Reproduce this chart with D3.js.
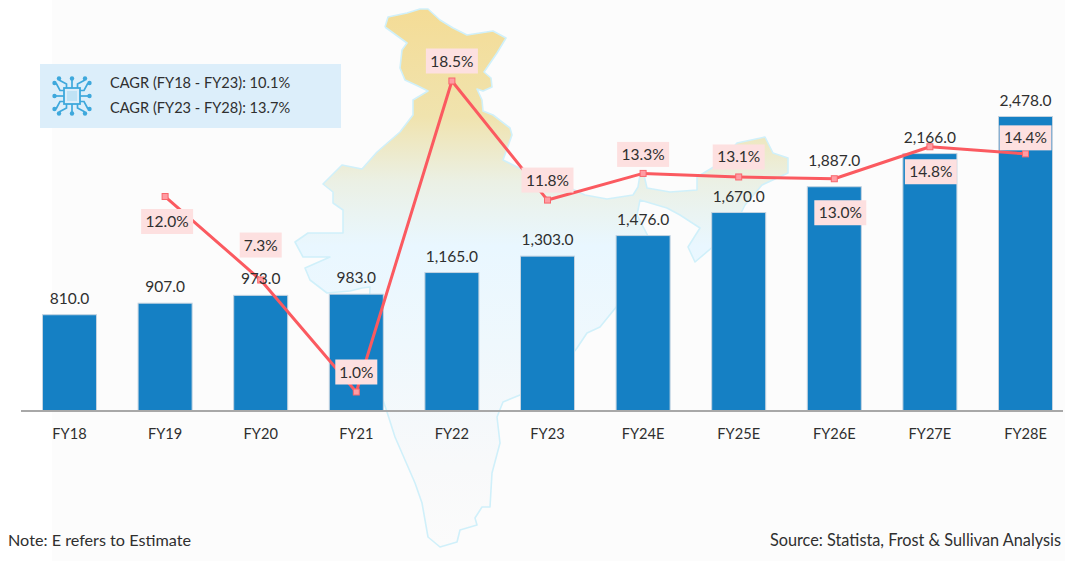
<!DOCTYPE html>
<html><head><meta charset="utf-8">
<script src="https://cdn.jsdelivr.net/npm/d3@7"></script>
<style>html,body{margin:0;padding:0;background:#fff}svg{display:block}text{font-family:Lato,"Open Sans",sans-serif;fill:#2f2f2f}</style>
</head><body><div id="chart"></div>
<script>
const categories=["FY18","FY19","FY20","FY21","FY22","FY23","FY24E","FY25E","FY26E","FY27E","FY28E"];
const revenue=[810,907,973,983,1165,1303,1476,1670,1887,2166,2478];
const growth=[null,12.0,7.3,1.0,18.5,11.8,13.3,13.1,13.0,14.8,14.4];
// label offsets as placed in the reference
const valueDy=[0,0,0,0,0,0,0,0,-10,0,0];
const labelDx=[0,2,0,0,0,0,0,0,6,1,0];
const labelDy=[0,25,-35,-20,-20,-20,-19,-20,34,25,-16];
const legendLines=["CAGR (FY18 - FY23): 10.1%","CAGR (FY23 - FY28): 13.7%"];
const note="Note: E refers to Estimate";
const source="Source: Statista, Frost & Sullivan Analysis";
// decorative backdrop: outline of the map of India
const mapOutline=[[385,27],[388,17],[407,13],[420,9],[428,9],[440,20],[453,28],[467,35],[493,31],[506,38],[497,53],[484,72],[491,78],[492,87],[483,91],[477,89],[482,100],[483,111],[493,115],[510,128],[512,135],[503,160],[523,170],[548,180],[570,188],[585,195],[607,199],[633,195],[638,187],[640,175],[644,175],[647,188],[670,192],[697,190],[697,177],[717,165],[737,143],[765,137],[773,153],[788,158],[788,173],[762,185],[745,205],[735,225],[715,245],[695,262],[688,247],[700,228],[680,215],[667,208],[640,200],[637,215],[650,240],[648,270],[630,290],[600,327],[587,333],[577,348],[560,370],[520,395],[503,402],[497,417],[500,443],[492,473],[490,507],[482,507],[475,518],[477,525],[460,530],[457,542],[440,547],[428,537],[422,503],[415,483],[395,437],[387,412],[378,385],[368,340],[370,287],[362,288],[350,291],[327,293],[310,280],[305,268],[330,257],[303,257],[295,242],[308,233],[343,233],[343,210],[333,203],[333,192],[323,184],[342,165],[362,169],[377,152],[400,132],[413,115],[413,100],[428,91],[418,86],[405,80],[400,68],[402,50],[407,43],[385,27]];

const W=1065,H=561;
const svg=d3.select("#chart").append("svg").attr("width",W).attr("height",H);
const defs=svg.append("defs");
const grad=defs.append("linearGradient").attr("id","mapFill").attr("gradientUnits","userSpaceOnUse").attr("x1",0).attr("x2",0).attr("y1",9).attr("y2",547);
[[0,"#f4dc96"],[0.2,"#f0e3ae"],[0.32,"#ebf0e4"],[0.44,"#e9f7ff"],[0.62,"#eff8fd"],[0.85,"#f8f9fa"],[1,"#fbfbfb"]].forEach(d=>grad.append("stop").attr("offset",d[0]).attr("stop-color",d[1]));

svg.append("rect").attr("x",52).attr("y",0).attr("width",W-52).attr("height",H).attr("fill","#fcfcfc");
svg.append("path").attr("d",d3.line()(mapOutline)).attr("fill","url(#mapFill)").attr("stroke","#d0f0fa").attr("stroke-width",1.6).attr("stroke-linejoin","round");

const x=d3.scaleBand().domain(categories).range([21.7,1073.3]).paddingInner(0.435).paddingOuter(0.2175);
const y=d3.scaleLinear().domain([0,2478]).range([411,116.5]);
const y2=d3.scaleLinear().domain([1,18.5]).range([392,81]);
const cx=c=>x(c)+x.bandwidth()/2;

// legend box
svg.append("rect").attr("x",40).attr("y",64).attr("width",301).attr("height",64).attr("fill","#dceefa");
svg.selectAll(".leg").data(legendLines).join("text").attr("class","leg").attr("x",110).attr("y",(d,i)=>88+i*25).attr("font-size",14.6).text(d=>d);
// chip icon
const ic=svg.append("g").attr("transform","translate(72,96)").attr("fill","none").attr("stroke","#3ea8dc").attr("stroke-width",1.7);
ic.append("rect").attr("x",-8).attr("y",-8).attr("width",16).attr("height",16).attr("stroke-width",1.8);
ic.append("rect").attr("x",-5).attr("y",-5).attr("width",10).attr("height",10).attr("fill","#bfe2f5").attr("stroke","none");
[0,90,180,270].forEach(a=>{
  const g=ic.append("g").attr("transform",`rotate(${a})`);
  [[-5.5,-8,-5.5,-12,-13,-16],[0,-8,0,-16,0,-16],[5.5,-8,5.5,-12,13,-16]].forEach(p=>{
    g.append("path").attr("d",`M${p[0]},${p[1]}L${p[2]},${p[3]}L${p[4]},${p[5]}`);
    g.append("circle").attr("cx",p[4]).attr("cy",p[5]-1.5).attr("r",2.2).attr("fill","#3ea8dc").attr("stroke","none");
  });
});

// bars
svg.selectAll(".bar").data(categories).join("rect").attr("class","bar")
 .attr("x",d=>x(d)).attr("width",x.bandwidth())
 .attr("y",(d,i)=>y(revenue[i])).attr("height",(d,i)=>y(0)-y(revenue[i]))
 .attr("fill","#1580c4").attr("stroke","#c4d3e0").attr("stroke-width",1);

// x axis
const axis=svg.append("g").attr("transform","translate(0,411)").call(d3.axisBottom(x).tickSize(0).tickPadding(15));
axis.select(".domain").remove();
axis.selectAll("text").attr("font-size",14.6).attr("font-family",null).attr("dy","0.9em");
svg.append("line").attr("x1",21).attr("x2",1063).attr("y1",411).attr("y2",411).attr("stroke","#a8a8a8").attr("stroke-width",2);

// growth line
const pts=categories.map((c,i)=>({c,v:growth[i],dx:labelDx[i],dy:labelDy[i]})).filter(d=>d.v!==null);
svg.append("path").attr("d",d3.line().x(d=>cx(d.c)).y(d=>y2(d.v))(pts)).attr("fill","none").attr("stroke","#fb5a60").attr("stroke-width",3).attr("stroke-linejoin","round");
svg.selectAll(".mk").data(pts).join("rect").attr("class","mk")
 .attr("x",d=>cx(d.c)-3).attr("y",d=>y2(d.v)-3).attr("width",6).attr("height",6)
 .attr("fill","#ff9ca3").attr("stroke","#f8666c").attr("stroke-width",1);

// value labels
svg.selectAll(".val").data(categories).join("text").attr("class","val")
 .attr("x",cx).attr("y",(d,i)=>y(revenue[i])-11+valueDy[i]).attr("text-anchor","middle").attr("font-size",15.5)
 .text((d,i)=>d3.format(",.1f")(revenue[i]));

const lb=svg.selectAll(".lb").data(pts).join("g").attr("class","lb")
 .attr("transform",d=>`translate(${cx(d.c)+d.dx},${y2(d.v)+d.dy})`);
lb.append("rect").attr("x",d=>d.v<10?-21:-26).attr("y",-12.5).attr("width",d=>d.v<10?42:52).attr("height",25).attr("fill","#fde0e0");
lb.append("text").attr("text-anchor","middle").attr("y",5.5).attr("font-size",15.5).text(d=>d3.format(".1f")(d.v)+"%");

// footers
svg.append("text").attr("x",8).attr("y",546).attr("font-size",16.2).text(note);
svg.append("text").attr("x",1061).attr("y",546).attr("text-anchor","end").attr("font-size",16.3).text(source);
</script></body></html>
